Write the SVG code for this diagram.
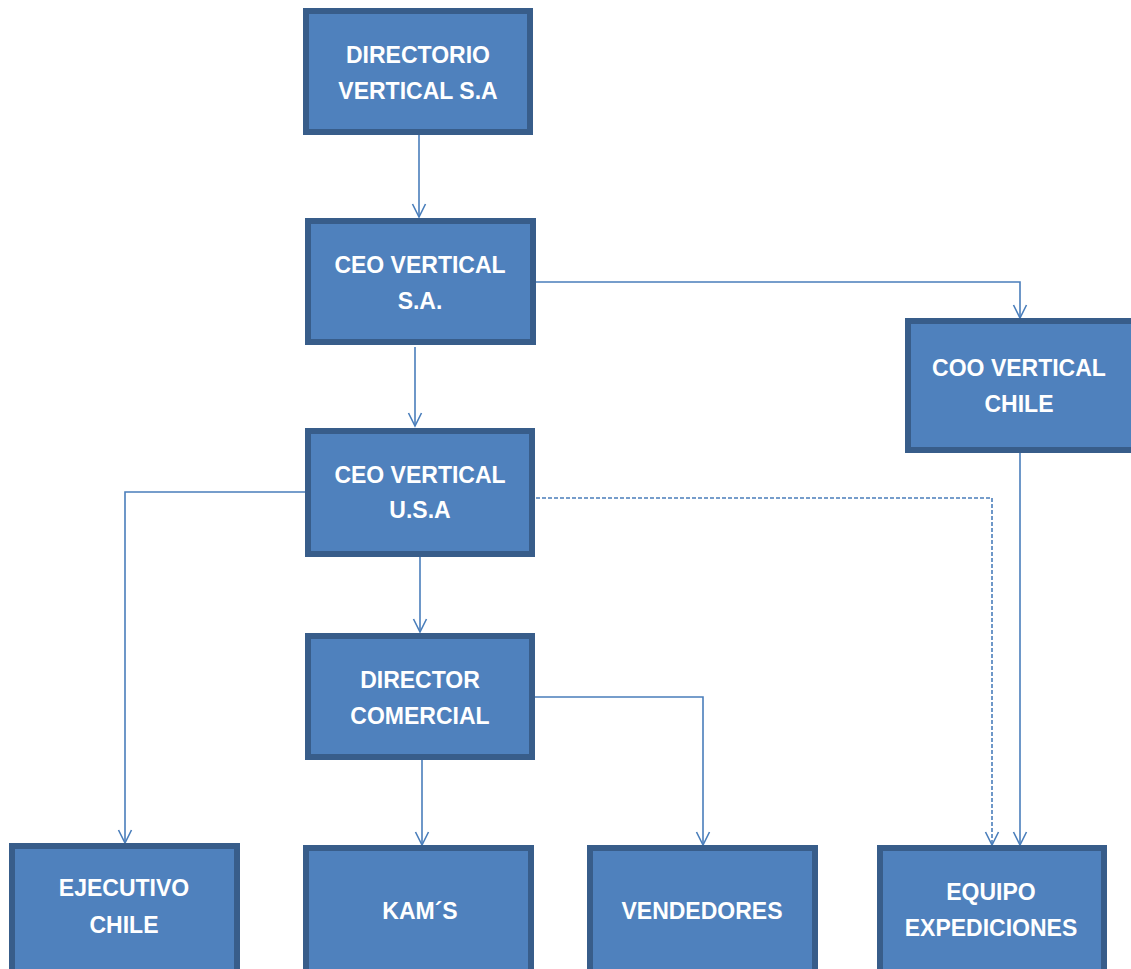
<svg xmlns="http://www.w3.org/2000/svg" width="1131" height="969" viewBox="0 0 1131 969">
<style>
.box{fill:#4F81BD;stroke:#385D8A;stroke-width:6}
.t{font-family:"Liberation Sans",Arial,sans-serif;font-weight:bold;font-size:23px;fill:#FFFFFF;text-anchor:middle}
.c{fill:none;stroke:#4A7EBB;stroke-width:1.6}
.d{fill:none;stroke:#4A7EBB;stroke-width:1.6;stroke-dasharray:4 2}
</style>
<defs>
<marker id="a" markerUnits="userSpaceOnUse" markerWidth="20" markerHeight="20" refX="16" refY="10" orient="auto" viewBox="0 0 20 20">
<path d="M3 3.5 L16 10 L3 16.5" fill="none" stroke="#4A7EBB" stroke-width="1.6"/>
</marker>
</defs>
<g id="connectors">
<path class="c" d="M419 135 V217" marker-end="url(#a)"/>
<path class="c" d="M536 282 H1020 V318" marker-end="url(#a)"/>
<path class="c" d="M415 347 V426" marker-end="url(#a)"/>
<path class="c" d="M305 492 H125 V843" marker-end="url(#a)"/>
<path class="d" d="M536 498 H992 V845" marker-end="url(#a)"/>
<path class="c" d="M1020 453 V845" marker-end="url(#a)"/>
<path class="c" d="M420 557 V632" marker-end="url(#a)"/>
<path class="c" d="M422 760 V845" marker-end="url(#a)"/>
<path class="c" d="M535 697 H703 V845" marker-end="url(#a)"/>
</g>
<g id="n1"><rect class="box" x="306" y="11" width="224" height="121"/><text class="t" x="418" y="63">DIRECTORIO</text><text class="t" x="418" y="99">VERTICAL S.A</text></g>
<g id="n2"><rect class="box" x="308" y="221" width="225" height="121"/><text class="t" x="420" y="273">CEO VERTICAL</text><text class="t" x="420" y="309">S.A.</text></g>
<g id="n3"><rect class="box" x="308" y="431" width="224" height="123"/><text class="t" x="420" y="483">CEO VERTICAL</text><text class="t" x="420" y="518">U.S.A</text></g>
<g id="n4"><rect class="box" x="308" y="636" width="224" height="121"/><text class="t" x="420" y="688">DIRECTOR</text><text class="t" x="420" y="724">COMERCIAL</text></g>
<g id="n5"><rect class="box" x="908" y="321" width="226" height="129"/><text class="t" x="1019" y="376">COO VERTICAL</text><text class="t" x="1019" y="412">CHILE</text></g>
<g id="n6"><rect class="box" x="12" y="846" width="225" height="130"/><text class="t" x="124" y="896">EJECUTIVO</text><text class="t" x="124" y="933">CHILE</text></g>
<g id="n7"><rect class="box" x="306" y="848" width="225" height="130"/><text class="t" x="420" y="919">KAM´S</text></g>
<g id="n8"><rect class="box" x="590" y="848" width="225" height="130"/><text class="t" x="702" y="919">VENDEDORES</text></g>
<g id="n9"><rect class="box" x="880" y="848" width="224" height="130"/><text class="t" x="991" y="900">EQUIPO</text><text class="t" x="991" y="936">EXPEDICIONES</text></g>
</svg>
